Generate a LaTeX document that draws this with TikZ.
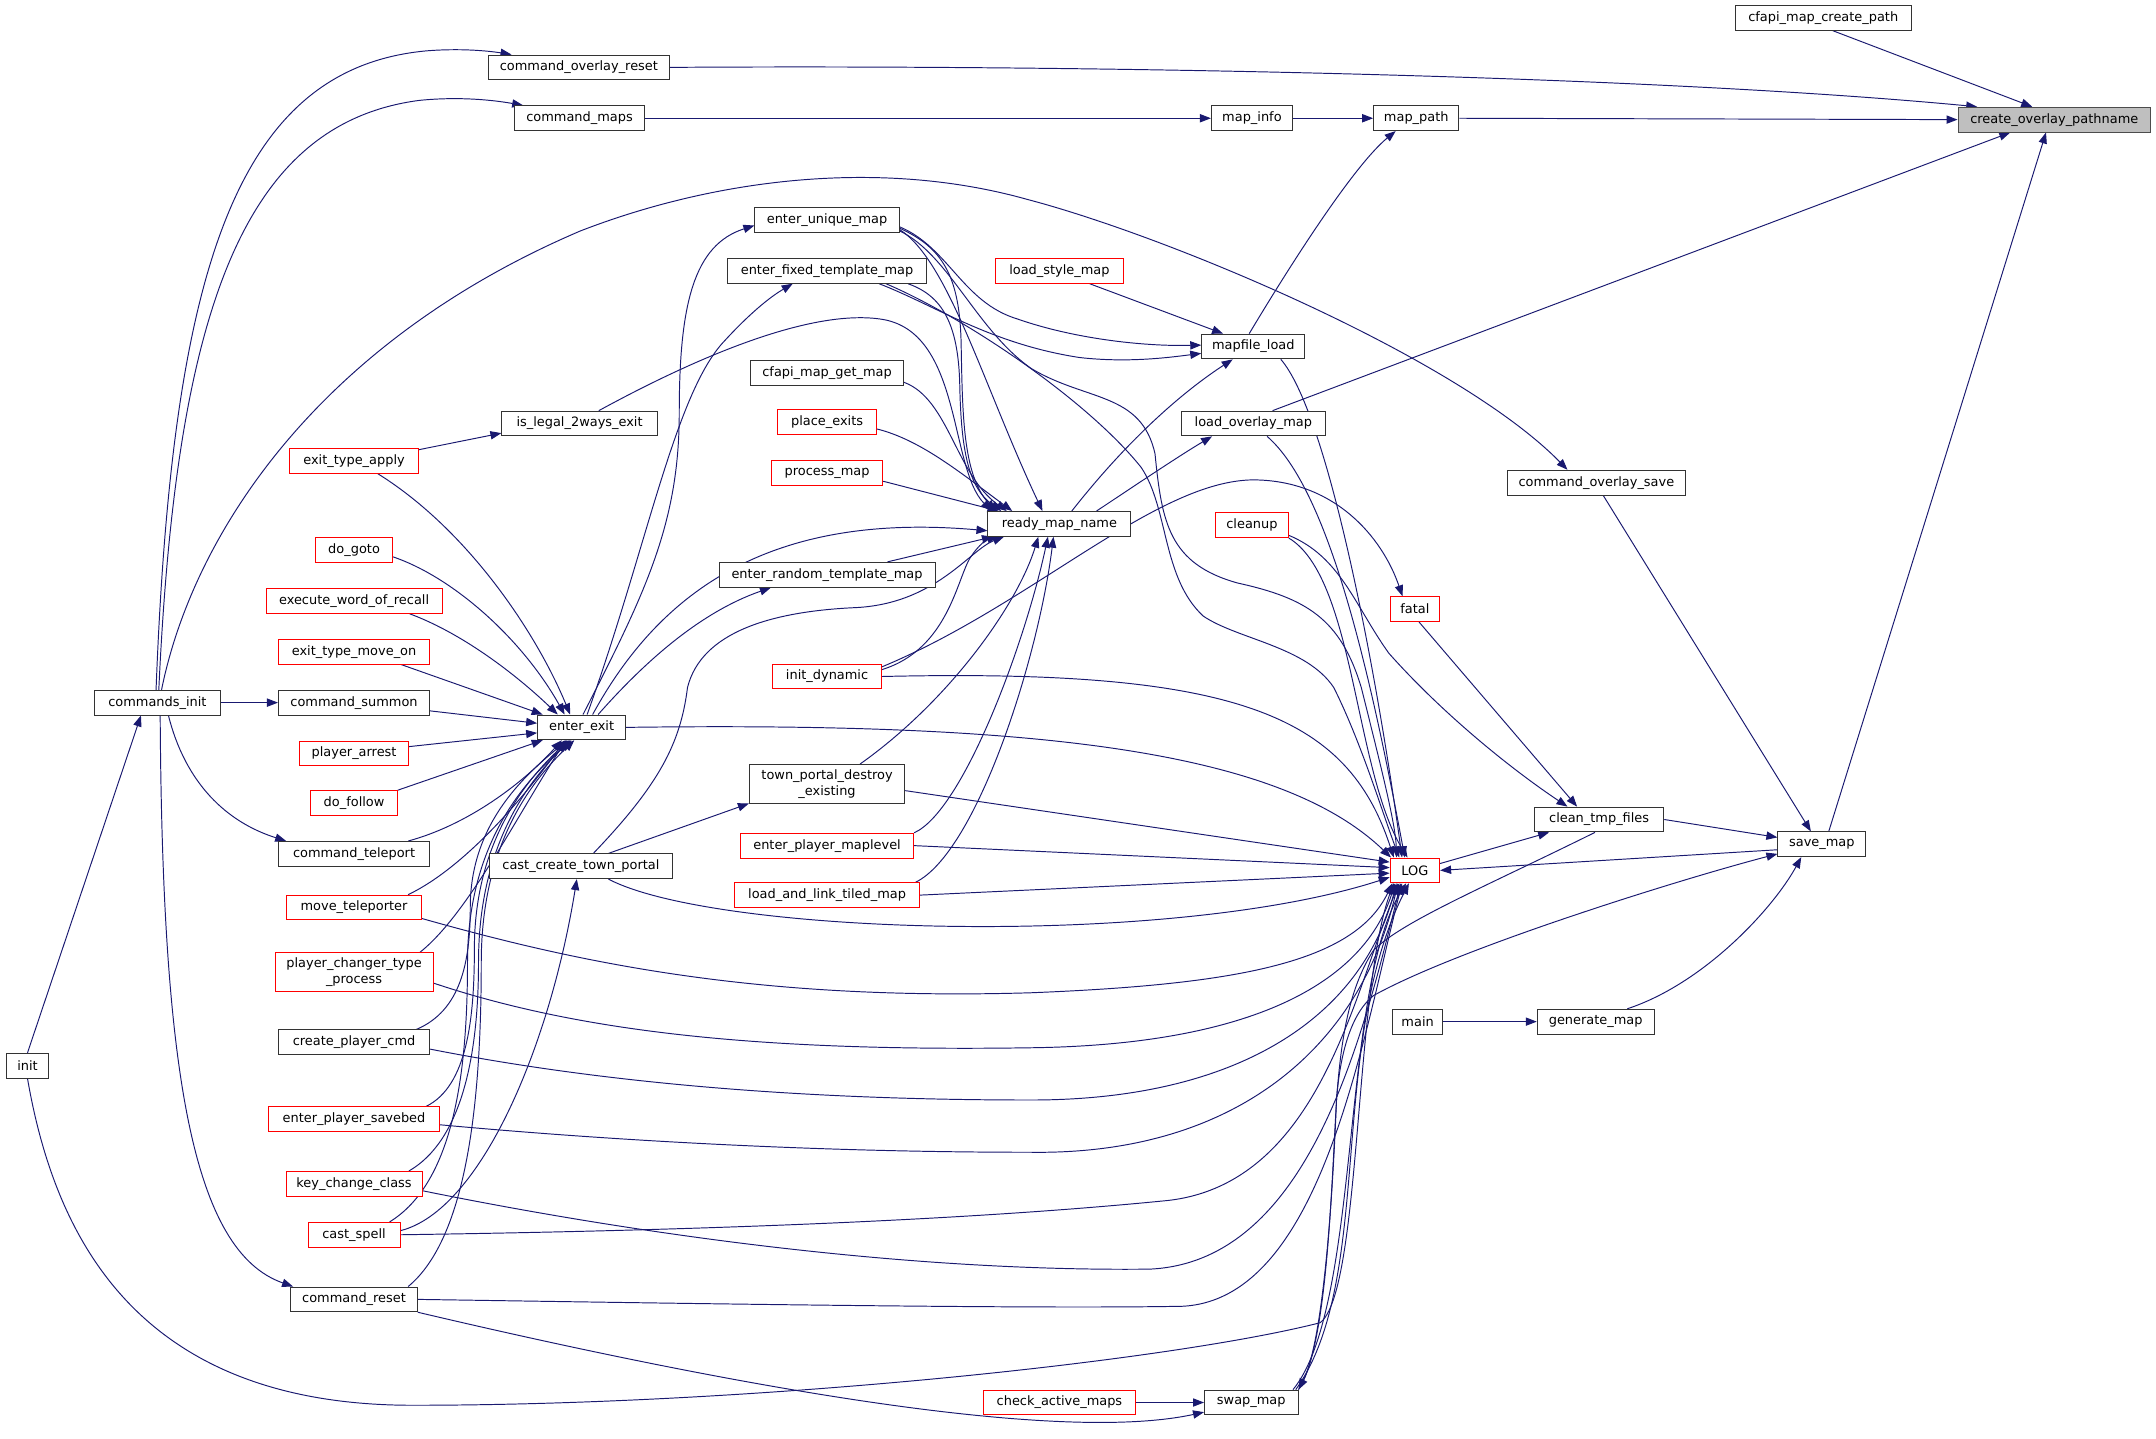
\documentclass[tikz,border=0pt]{standalone}
\usepackage{fontspec}
\setmainfont{DejaVu Sans}
\usetikzlibrary{arrows.meta}
\definecolor{edgeblue}{HTML}{191970}
\pgfdeclarelayer{bg}
\pgfsetlayers{bg,main}
\tikzset{
  nb/.style={draw=black!80, line width=0.7pt, fill=white, inner sep=0pt, minimum height=18pt, font=\fontsize{9.4}{11.5}\selectfont, align=center},
  nr/.style={nb, draw=red},
  nroot/.style={nb, draw=black!70, fill=black!25},
  e/.style={draw=edgeblue, line width=0.7pt, -{Triangle[length=8pt,width=6pt]}},
}
\begin{document}
\begin{tikzpicture}[x=1pt,y=-1pt]
\useasboundingbox (0,0) rectangle (1568,1046);
% nodes
\node[nb, minimum width=128pt] (cmcp) at (1326,13) {cfapi\_map\_create\_path};
\node[nroot, minimum width=140pt] (cop) at (1494,87) {create\_overlay\_pathname};
\node[nb, minimum width=132pt] (cor) at (421,49) {command\_overlay\_reset};
\node[nb, minimum width=95pt] (cmaps) at (421.5,86) {command\_maps};
\node[nb, minimum width=59pt] (mapinfo) at (910.5,86) {map\_info};
\node[nb, minimum width=62pt] (mappath) at (1030,86) {map\_path};
\node[nb, minimum width=105pt] (eum) at (601.5,160) {enter\_unique\_map};
\node[nb, minimum width=145pt] (eftm) at (601.5,197) {enter\_fixed\_template\_map};
\node[nr, minimum width=93pt] (lsm) at (770.5,197) {load\_style\_map};
\node[nb, minimum width=75pt] (mfl) at (911.5,252) {mapfile\_load};
\node[nb, minimum width=111pt] (cmgm) at (601.5,271) {cfapi\_map\_get\_map};
\node[nr, minimum width=72pt] (pe) at (601.5,307) {place\_exits};
\node[nb, minimum width=113pt] (il2) at (421.5,308) {is\_legal\_2ways\_exit};
\node[nb, minimum width=105pt] (lom) at (911.5,308) {load\_overlay\_map};
\node[nr, minimum width=94pt] (eta) at (257.5,335) {exit\_type\_apply};
\node[nr, minimum width=81pt] (pm) at (601.5,344) {process\_map};
\node[nb, minimum width=130pt] (cos) at (1161,351) {command\_overlay\_save};
\node[nb, minimum width=104pt] (rmn) at (770.5,381) {ready\_map\_name};
\node[nr, minimum width=53pt] (cleanup) at (910.5,382) {cleanup};
\node[nr, minimum width=56pt] (dogoto) at (257.5,400) {do\_goto};
\node[nb, minimum width=157pt] (ertm) at (601.5,418) {enter\_random\_template\_map};
\node[nr, minimum width=128pt] (ewor) at (257.5,437) {execute\_word\_of\_recall};
\node[nr, minimum width=36pt] (fatal) at (1029,443) {fatal};
\node[nr, minimum width=110pt] (etmo) at (257.5,474) {exit\_type\_move\_on};
\node[nr, minimum width=79pt] (id) at (601.5,492) {init\_dynamic};
\node[nb, minimum width=91pt] (ci) at (114.5,511) {commands\_init};
\node[nb, minimum width=110pt] (csum) at (257.5,511) {command\_summon};
\node[nb, minimum width=64pt] (ee) at (423,529) {enter\_exit};
\node[nr, minimum width=79pt] (parr) at (257.5,548) {player\_arrest};
\node[nb, minimum width=113pt, minimum height=28pt] (tpde) at (601.5,570) {town\_portal\_destroy\\\_existing};
\node[nr, minimum width=63pt] (dof) at (257.5,584) {do\_follow};
\node[nb, minimum width=94pt] (ctf) at (1163,596) {clean\_tmp\_files};
\node[nr, minimum width=126pt] (epml) at (601.5,615) {enter\_player\_maplevel};
\node[nb, minimum width=64pt] (savemap) at (1325,614) {save\_map};
\node[nb, minimum width=110pt] (ctel) at (257.5,621) {command\_teleport};
\node[nb, minimum width=133pt] (cctp) at (422.5,630) {cast\_create\_town\_portal};
\node[nr, minimum width=36pt] (log) at (1029,633) {LOG};
\node[nr, minimum width=134pt] (laltm) at (601.5,651) {load\_and\_link\_tiled\_map};
\node[nr, minimum width=98pt] (mtel) at (257.5,660) {move\_teleporter};
\node[nr, minimum width=115pt, minimum height=28pt] (pctp) at (257.5,707) {player\_changer\_type\\\_process};
\node[nb, minimum width=36pt] (main) at (1031,743) {main};
\node[nb, minimum width=85pt] (genmap) at (1160.5,743) {generate\_map};
\node[nb, minimum width=110pt] (cpc) at (257.5,758) {create\_player\_cmd};
\node[nb, minimum width=30pt] (init) at (20,775) {init};
\node[nr, minimum width=124pt] (epsb) at (257.5,814) {enter\_player\_savebed};
\node[nr, minimum width=99pt] (kcc) at (257.5,861) {key\_change\_class};
\node[nr, minimum width=67pt] (cs) at (257.5,898) {cast\_spell};
\node[nb, minimum width=92pt] (cr) at (257.5,945) {command\_reset};
\node[nr, minimum width=111pt] (cam) at (770.5,1020) {check\_active\_maps};
\node[nb, minimum width=68pt] (swap) at (910,1020) {swap\_map};

\begin{pgfonlayer}{bg}
\fill[white] (0,0) rectangle (1568,1046);
% top
\draw[e] ([xshift=7pt]cmcp.south) -- ([xshift=-16pt]cop.north);
\draw[e] (cor.east) .. controls (800,47) and (1200,55) .. ([xshift=-56pt]cop.north);
\draw[e] (mappath.east) -- (cop.west);
\draw[e] ([xshift=14pt]lom.north) -- ([xshift=-32pt]cop.south);
\draw[e] ([xshift=5pt]savemap.north) -- ([xshift=-6pt]cop.south);
\draw[e] (cmaps.east) -- (mapinfo.west);
\draw[e] (mapinfo.east) -- (mappath.west);
\draw[e] ([xshift=-3pt]mfl.north) .. controls (940,190) and (985,120) .. ([xshift=-15pt]mappath.south);
% commands_init
\draw[e] ([xshift=-1pt]ci.north) .. controls (125,200) and (170,50) .. (310,37) .. controls (335,35) and (355,37) .. ([xshift=-49pt]cor.north);
\draw[e] ([xshift=1pt]ci.north) .. controls (128,230) and (175,90) .. (305,73) .. controls (335,70) and (360,73) .. ([xshift=-41pt]cmaps.north);
\draw[e] ([xshift=3pt]ci.north) .. controls (140,390) and (230,250) .. (422,168) .. controls (520,130) and (640,115) .. (747,145) .. controls (850,172) and (1060,260) .. ([xshift=-21pt]cos.north);
\draw[e] (ci.east) -- (csum.west);
\draw[e] ([xshift=8pt]ci.south) .. controls (135,570) and (165,598) .. ([xshift=6pt]ctel.north west);
\draw[e] ([xshift=2pt]ci.south) .. controls (118,780) and (140,910) .. ([xshift=2pt]cr.north west);
\draw[e] (init.north) -- ([xshift=-12pt]ci.south);
\draw[e] (init.south) .. controls (40,900) and (100,1022) .. (300,1022) .. controls (550,1022) and (850,990) .. (960,962) .. controls (990,940) and (985,720) .. ([xshift=3pt]log.south west);
% into enter_exit
\draw[e] ([yshift=8pt]eta.east) -- ([yshift=-7pt]il2.west);
\draw[e] ([xshift=17pt]eta.south) .. controls (340,385) and (390,460) .. ([xshift=24pt]ee.north west);
\draw[e] ([yshift=-5pt]dogoto.east) .. controls (330,420) and (380,465) .. ([xshift=20pt]ee.north west);
\draw[e] ([xshift=-24pt]ewor.south east) .. controls (340,462) and (380,495) .. ([xshift=15pt]ee.north west);
\draw[e] ([xshift=-21pt]etmo.south east) -- ([xshift=4pt]ee.north west);
\draw[e] ([yshift=-6pt]csum.east) -- ([yshift=3pt]ee.west);
\draw[e] ([yshift=5pt]parr.east) -- ([yshift=-4pt]ee.west);
\draw[e] (dof.north east) -- ([xshift=4pt]ee.south west);
\draw[e] ([xshift=-16pt]ctel.north east) .. controls (340,600) and (380,570) .. ([xshift=18pt]ee.south west);
\draw[e] ([xshift=-10pt]mtel.north east) .. controls (340,630) and (385,575) .. ([xshift=20pt]ee.south west);
\draw[e] ([xshift=-10pt]pctp.north east) .. controls (340,665) and (375,595) .. ([xshift=21pt]ee.south west);
\draw[e] ([xshift=-10pt]cpc.north east) .. controls (335,735) and (342,700) .. (342,660) .. controls (342,600) and (380,565) .. ([xshift=22pt]ee.south west);
\draw[e] ([xshift=-10pt]epsb.north east) .. controls (340,790) and (345,740) .. (345,690) .. controls (345,610) and (385,565) .. ([xshift=23pt]ee.south west);
\draw[e] ([xshift=-10pt]kcc.north east) .. controls (335,830) and (348,770) .. (348,700) .. controls (348,610) and (388,565) .. ([xshift=24pt]ee.south west);
\draw[e] ([xshift=-8pt]cs.north east) .. controls (330,860) and (340,780) .. (340,700) .. controls (340,610) and (385,565) .. ([xshift=25pt]ee.south west);
\draw[e] ([xshift=-7pt]cr.north east) .. controls (340,900) and (350,800) .. (350,700) .. controls (350,610) and (390,565) .. ([xshift=27pt]ee.south west);
% out of enter_exit
\draw[e] ([xshift=1pt]ee.north) .. controls (470,430) and (494,380) .. (494,300) .. controls (494,220) and (505,178) .. ([yshift=-4pt]eum.west);
\draw[e] ([xshift=4pt]ee.north) .. controls (470,400) and (490,290) .. (525,250) .. controls (545,228) and (560,216) .. ([xshift=-25pt]eftm.south);
\draw[e] ([xshift=8pt]ee.north) .. controls (480,430) and (560,372) .. ([yshift=-5pt]rmn.west);
\draw[e] ([xshift=12pt]ee.north) .. controls (470,480) and (510,445) .. ([xshift=38pt]ertm.south west);
\draw[e] (ee.east) .. controls (750,525) and (930,545) .. ([xshift=1pt]log.north west);
% into ready_map_name
\draw[e] ([yshift=-6pt]eum.east) .. controls (685,180) and (698,200) .. (699,250) .. controls (700,300) and (700,345) .. ([xshift=6pt]rmn.north west);
\draw[e] ([yshift=-7pt]eum.east) .. controls (690,190) and (715,280) .. ([xshift=40pt]rmn.north west);
\draw[e] ([xshift=-14pt]eftm.south east) .. controls (685,215) and (697,235) .. (698,280) .. controls (699,330) and (705,355) .. ([xshift=10pt]rmn.north west);
\draw[e] ([yshift=-7pt]cmgm.east) .. controls (690,290) and (695,345) .. ([xshift=14pt]rmn.north west);
\draw[e] ([yshift=-5pt]pe.east) .. controls (670,320) and (700,345) .. ([xshift=18pt]rmn.north west);
\draw[e] ([yshift=-6pt]pm.east) -- ([xshift=8pt]rmn.north west);
\draw[e] ([xshift=14pt]il2.north) .. controls (510,258) and (590,225) .. (640,232) .. controls (700,240) and (690,340) .. ([xshift=3pt]rmn.north west);
\draw[e] ([xshift=-35pt]ertm.north east) -- ([xshift=4pt]rmn.south west);
\draw[e] ([yshift=5pt]id.east) .. controls (690,472) and (696,420) .. (706,405) .. controls (712,396) and (718,392) .. ([xshift=8pt]rmn.south west);
\draw[e] ([xshift=9pt]cctp.north) .. controls (480,570) and (495,540) .. (500,500) .. controls (510,460) and (560,445) .. (620,442) .. controls (680,440) and (705,400) .. ([xshift=12pt]rmn.south west);
\draw[e] ([xshift=24pt]tpde.north) .. controls (690,510) and (740,440) .. ([xshift=37pt]rmn.south west);
\draw[e] (epml.north east) .. controls (700,590) and (745,470) .. ([xshift=44pt]rmn.south west);
\draw[e] ([xshift=-3pt]laltm.north east) .. controls (710,620) and (755,480) .. ([xshift=48pt]rmn.south west);
% out of ready_map_name, into mapfile_load
\draw[e] ([xshift=9pt]rmn.north) .. controls (820,320) and (860,285) .. ([xshift=-15pt]mfl.south);
\draw[e] ([xshift=27pt]rmn.north) .. controls (830,350) and (860,330) .. ([xshift=-30pt]lom.south);
\draw[e] ([xshift=22pt]lsm.south) -- ([xshift=-22pt]mfl.north);
\draw[e] ([yshift=-5pt]eum.east) .. controls (690,180) and (700,220) .. (740,232) .. controls (780,246) and (830,252) .. ([yshift=1pt]mfl.west);
\draw[e] ([xshift=-35pt]eftm.south east) .. controls (680,222) and (720,250) .. (785,260) .. controls (820,264) and (850,260) .. ([yshift=-5pt]mfl.west);
% into LOG from above
\draw[e] ([xshift=20pt]mfl.south) .. controls (965,300) and (1000,480) .. ([xshift=9pt]log.north west);
\draw[e] ([xshift=10pt]lom.south) .. controls (965,355) and (995,480) .. ([xshift=11pt]log.north west);
\draw[e] (cleanup.south east) .. controls (985,420) and (985,560) .. ([xshift=13pt]log.north west);
\draw[e] ([yshift=2pt]cleanup.south east) .. controls (975,405) and (985,440) .. (1010,475) .. controls (1050,520) and (1100,560) .. ([xshift=-23pt]ctf.north);
\draw[e] ([xshift=3pt]fatal.south) -- ([xshift=-16pt]ctf.north);
\draw[e] ([yshift=7pt]id.east) .. controls (750,440) and (840,350) .. (911,349) .. controls (970,349) and (1005,390) .. ([xshift=-9pt]fatal.north);
\draw[e] ([yshift=-8pt]eum.east) .. controls (690,185) and (710,240) .. (750,268) .. controls (790,292) and (830,285) .. (840,330) .. controls (845,380) and (850,410) .. (900,424) .. controls (950,435) and (975,450) .. (990,500) .. controls (1005,560) and (1015,600) .. ([xshift=5pt]log.north west);
\draw[e] ([xshift=-30pt]eftm.south east) .. controls (700,230) and (790,290) .. (830,340) .. controls (850,370) and (845,420) .. (875,448) .. controls (900,465) and (950,470) .. (970,500) .. controls (990,540) and (1005,590) .. ([xshift=7pt]log.north west);
\draw[e] (id.east) .. controls (900,486) and (980,520) .. ([xshift=3pt]log.north west);
% into LOG from left
\draw[e] ([yshift=-5pt]tpde.east) -- ([yshift=6pt]log.west);
\draw[e] (epml.east) -- ([yshift=2pt]log.west);
\draw[e] (laltm.east) -- ([yshift=-2pt]log.west);
\draw[e] ([xshift=20pt]cctp.south) .. controls (520,680) and (850,690) .. ([yshift=-5pt]log.west);
\draw[e] ([yshift=-8pt]mtel.east) .. controls (420,700) and (550,728) .. (750,722) .. controls (900,716) and (985,700) .. ([xshift=2pt]log.south west);
\draw[e] ([yshift=-8pt]pctp.east) .. controls (420,750) and (550,765) .. (750,762) .. controls (900,760) and (990,720) .. ([xshift=4pt]log.south west);
\draw[e] ([yshift=-5pt]cpc.east) .. controls (450,790) and (600,800) .. (750,800) .. controls (900,800) and (990,740) .. ([xshift=5pt]log.south west);
\draw[e] ([yshift=-4pt]epsb.east) .. controls (450,830) and (600,838) .. (750,838) .. controls (900,840) and (990,760) .. ([xshift=6pt]log.south west);
\draw[e] (cs.east) .. controls (500,895) and (700,888) .. (850,873) .. controls (960,860) and (985,720) .. ([xshift=7pt]log.south west);
\draw[e] ([yshift=-5pt]kcc.east) .. controls (450,895) and (650,925) .. (836,923) .. controls (950,918) and (990,760) .. ([xshift=8pt]log.south west);
\draw[e] (cr.east) .. controls (500,948) and (750,952) .. (860,950) .. controls (960,945) and (990,760) .. ([xshift=9pt]log.south west);
% right side
\draw[e] ([yshift=5pt]log.east) -- ([xshift=11pt]ctf.south west);
\draw[e] ([yshift=-4pt]savemap.west) -- (log.east);
\draw[e] (ctf.east) -- ([yshift=5pt]savemap.west);
\draw[e] ([xshift=5pt]cos.south) -- ([xshift=-8pt]savemap.north);
\draw[e] ([xshift=23pt]genmap.north) .. controls (1240,715) and (1290,660) .. ([xshift=-15pt]savemap.south);
\draw[e] (main.east) -- (genmap.west);
\draw[e] (swap.north east) .. controls (965,980) and (968,870) .. (972,800) .. controls (975,760) and (985,735) .. (999,724) .. controls (1060,690) and (1220,640) .. ([yshift=-7pt]savemap.west);
\draw[e] ([xshift=-3pt]ctf.south) .. controls (1080,645) and (1020,670) .. (999,691) .. controls (980,720) and (975,760) .. (972,800) .. controls (968,900) and (960,980) .. (swap.north east);
\draw[e] ([xshift=-4pt]swap.north east) .. controls (990,950) and (975,720) .. ([xshift=12pt]log.south west);
\draw[e] ([xshift=-2pt]swap.north east) .. controls (1000,930) and (965,760) .. ([xshift=14pt]log.south west);
\draw[e] (cam.east) -- (swap.west);
\draw[e] (cr.south east) .. controls (540,1010) and (770,1050) .. ([yshift=-7pt]swap.west);
\draw[e] ([yshift=3pt]cs.east) .. controls (350,880) and (400,760) .. ([xshift=-3pt]cctp.south);
\draw[e] ([xshift=20pt]cctp.north) -- (tpde.south west);
\end{pgfonlayer}
\end{tikzpicture}
\end{document}
